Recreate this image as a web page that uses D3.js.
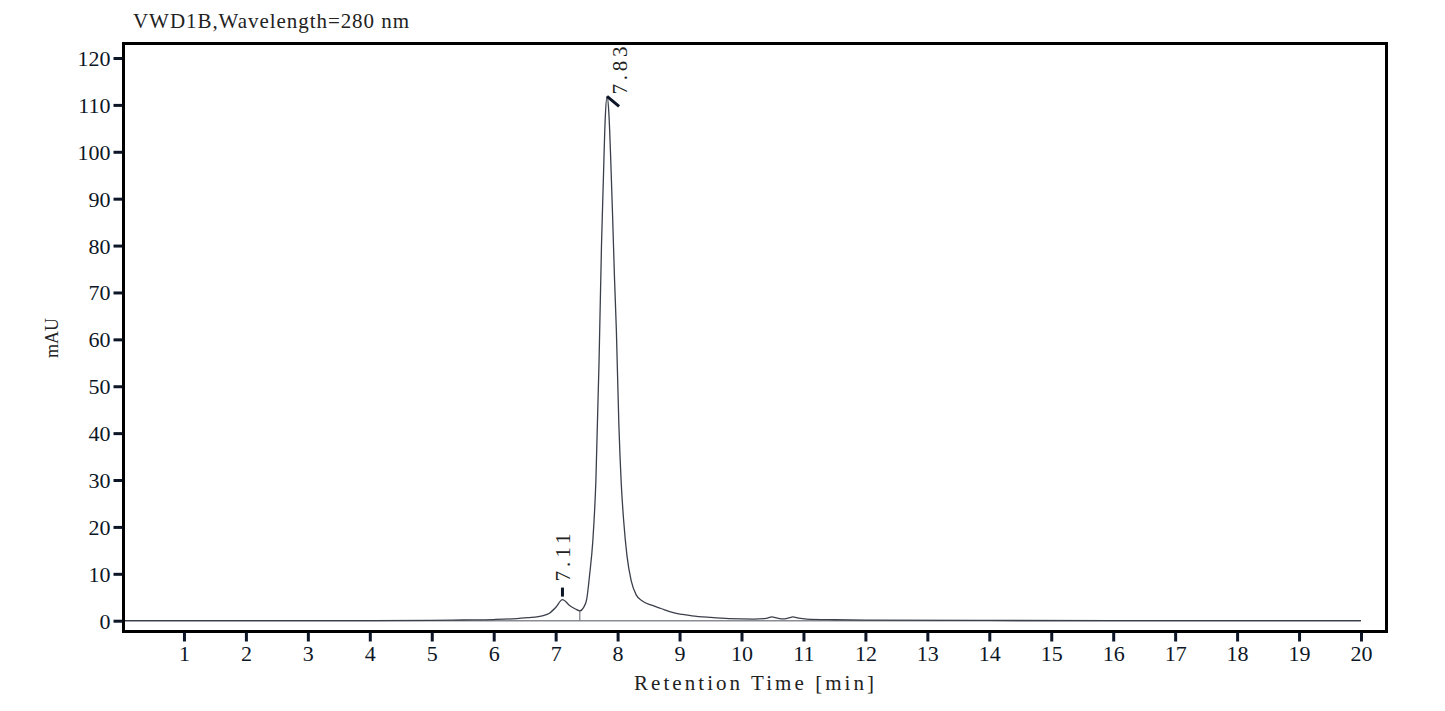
<!DOCTYPE html>
<html>
<head>
<meta charset="utf-8">
<script src="https://cdn.jsdelivr.net/npm/d3@7"></script>
<style>
  html, body { margin: 0; padding: 0; background: #fff; }
  svg { display: block; }
</style>
</head>
<body>
<svg id="chart" width="1445" height="711"></svg>
<script>
// ---- data ----
const title = "VWD1B,Wavelength=280 nm";
const xLabel = "Retention Time [min]";
const yLabel = "mAU";
const xTicks = [1,2,3,4,5,6,7,8,9,10,11,12,13,14,15,16,17,18,19,20];
const yTicks = [0,10,20,30,40,50,60,70,80,90,100,110,120];
const times = [0, 1, 2, 3, 4, 5, 5.5, 6, 6.3, 6.55, 6.8, 6.9, 7.0, 7.11, 7.23, 7.32, 7.39, 7.45, 7.5, 7.55, 7.6, 7.65, 7.7, 7.74, 7.77, 7.80, 7.83, 7.86, 7.89, 7.92, 7.95, 7.98, 8.02, 8.06, 8.10, 8.15, 8.22, 8.30, 8.40, 8.55, 8.7, 8.9, 9.2, 9.5, 9.8, 10.2, 10.4, 10.49, 10.58, 10.67, 10.75, 10.83, 10.92, 11.05, 11.5, 12, 14, 16, 18, 20];
const signal = [0, 0, 0, 0, 0, 0.05, 0.15, 0.25, 0.4, 0.65, 1.1, 1.6, 2.8, 4.5, 3.2, 2.5, 2.1, 2.8, 4.5, 10, 17, 30, 55, 80, 94, 107, 111.8, 108, 98, 86, 73, 62, 42, 29, 21, 14, 8.5, 5.5, 4.2, 3.3, 2.6, 1.7, 1.05, 0.7, 0.45, 0.35, 0.5, 0.8, 0.55, 0.4, 0.55, 0.8, 0.55, 0.35, 0.2, 0.12, 0.05, 0.03, 0.02, 0];
const peakTimes = [7.11, 7.83];
const peakHeights = [4.5, 111.8];
const peakLabels = ["7.11", "7.83"];
const valleyTime = 7.39;
const valleyHeight = 2.1;
const baselineRange = [0, 20];

// ---- drawing ----
const svg = d3.select("#chart");
const x = d3.scaleLinear().domain([0, 20]).range([122, 1361]);
const y = d3.scaleLinear().domain([0, 120]).range([620.7, 58]);
const frame = {left: 123.5, right: 1386.5, top: 43.5, bottom: 631.5};
const ink = "#0d1626";
const serif = "'Liberation Serif', 'Times New Roman', serif";
// half-width serif text, spaced like a fixed-pitch font (12px per character)
function pitched(sel, str, size) {
  return sel.attr("font-family", serif).attr("font-size", size)
    .attr("textLength", str.length * 12).attr("lengthAdjust", "spacing")
    .text(str);
}

// title
pitched(svg.append("text").attr("x", 133).attr("y", 28).attr("fill", "#222"), title, 21);

// baseline (integration)
svg.append("line")
  .attr("x1", x(baselineRange[0])).attr("x2", x(baselineRange[1]))
  .attr("y1", y(0)).attr("y2", y(0))
  .attr("stroke", "#8a8d94").attr("stroke-width", 1.6);

// valley drop line
svg.append("line")
  .attr("x1", x(valleyTime)).attr("x2", x(valleyTime))
  .attr("y1", y(valleyHeight)).attr("y2", y(0))
  .attr("stroke", "#777a80").attr("stroke-width", 1.2);

// signal
const pts = times.map((t, i) => [t, signal[i]]);
svg.append("path")
  .datum(pts)
  .attr("fill", "none")
  .attr("stroke", "#3a3f4a")
  .attr("stroke-width", 1.3)
  .attr("d", d3.line().x(d => x(d[0])).y(d => y(d[1])).curve(d3.curveMonotoneX));

// peak markers and labels
svg.append("line")
  .attr("x1", x(peakTimes[0])).attr("x2", x(peakTimes[0]))
  .attr("y1", y(peakHeights[0]) - 3).attr("y2", y(peakHeights[0]) - 12)
  .attr("stroke", ink).attr("stroke-width", 3);
pitched(svg.append("text")
  .attr("transform", `translate(${x(peakTimes[0]) + 8},${y(peakHeights[0]) - 18}) rotate(-90)`)
  .attr("fill", "#222"), peakLabels[0], 21);
svg.append("line")
  .attr("x1", x(peakTimes[1])).attr("y1", y(peakHeights[1]))
  .attr("x2", x(peakTimes[1]) + 12).attr("y2", y(peakHeights[1]) + 10)
  .attr("stroke", ink).attr("stroke-width", 3);
pitched(svg.append("text")
  .attr("transform", `translate(${x(peakTimes[1]) + 20},${y(peakHeights[1]) - 2}) rotate(-90)`)
  .attr("fill", "#222"), peakLabels[1], 21);

// frame
svg.append("rect")
  .attr("x", frame.left).attr("y", frame.top)
  .attr("width", frame.right - frame.left).attr("height", frame.bottom - frame.top)
  .attr("fill", "none").attr("stroke", "#000").attr("stroke-width", 3);

// y axis
const yAxis = d3.axisLeft(y).tickValues(yTicks).tickSize(9).tickPadding(3).tickFormat(d3.format("d"));
const gy = svg.append("g").attr("transform", `translate(${frame.left - 1},0)`).call(yAxis);
gy.select(".domain").remove();
gy.selectAll(".tick line").attr("stroke", ink).attr("stroke-width", 3);
gy.selectAll(".tick text").attr("font-family", serif).attr("font-size", 22).attr("fill", ink)
  .attr("dy", "0.34em");

// x axis
const xAxis = d3.axisBottom(x).tickValues(xTicks).tickSize(9).tickPadding(4).tickFormat(d3.format("d"));
const gx = svg.append("g").attr("transform", `translate(0,${frame.bottom + 1})`).call(xAxis);
gx.select(".domain").remove();
gx.selectAll(".tick line").attr("stroke", ink).attr("stroke-width", 3);
gx.selectAll(".tick text").attr("font-family", serif).attr("font-size", 22).attr("fill", ink);

// axis labels
pitched(svg.append("text").attr("x", 634).attr("y", 690).attr("fill", "#222"), xLabel, 21);
svg.append("text")
  .attr("transform", "translate(58,338) rotate(-90)")
  .attr("text-anchor", "middle")
  .attr("font-family", serif).attr("font-size", 18).attr("fill", "#222")
  .text(yLabel);
</script>
</body>
</html>
